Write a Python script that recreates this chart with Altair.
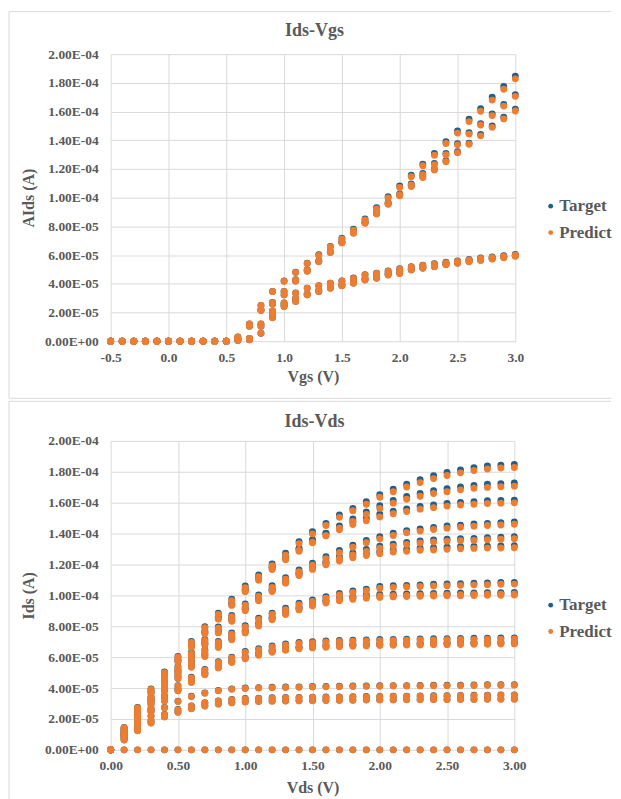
import altair as alt
import pandas as pd

# ---------------- colours / fonts ----------------
BLUE = "#1F5F8B"
ORANGE = "#ED7D31"
TEXT = "#595959"
GRID = "#D9D9D9"
FONT = "Liberation Serif"
SERIES = ["Target", "Predict"]

# ---------------- axis ticks ----------------
Y_TICKS = [0.0, 2.0e-5, 4.0e-5, 6.0e-5, 8.0e-5, 1.0e-4, 1.2e-4, 1.4e-4, 1.6e-4, 1.8e-4, 2.0e-4]
Y_LABELS = ["0.00E+00", "2.00E-05", "4.00E-05", "6.00E-05", "8.00E-05", "1.00E-04",
            "1.20E-04", "1.40E-04", "1.60E-04", "1.80E-04", "2.00E-04"]
XT_TICKS = [-0.5, 0.0, 0.5, 1.0, 1.5, 2.0, 2.5, 3.0]
XT_LABELS = ["-0.5", "0.0", "0.5", "1.0", "1.5", "2.0", "2.5", "3.0"]
XB_TICKS = [0.0, 0.5, 1.0, 1.5, 2.0, 2.5, 3.0]
XB_LABELS = ["0.00", "0.50", "1.00", "1.50", "2.00", "2.50", "3.00"]

# ---------------- top panel data: Ids (1e-5 A) vs Vgs ----------------
VGS = [-0.5, -0.4, -0.3, -0.2, -0.1, 0.0, 0.1, 0.2, 0.3, 0.4, 0.5, 0.6, 0.7, 0.8, 0.9,
       1.0, 1.1, 1.2, 1.3, 1.4, 1.5, 1.6, 1.7, 1.8, 1.9, 2.0, 2.1, 2.2, 2.3, 2.4, 2.5,
       2.6, 2.7, 2.8, 2.9, 3.0]

TA_T = [0, 0, 0, 0, 0, 0, 0, 0, 0, 0, 0, 0.30, 1.20, 2.50, 3.47, 4.20, 4.81, 5.44, 6.02, 6.60, 7.17, 7.80, 8.52, 9.30, 10.07, 10.81, 11.57, 12.34, 13.08, 13.90, 14.65, 15.47, 16.20, 17.00, 17.75, 18.47]
TB_T = [0, 0, 0, 0, 0, 0, 0, 0, 0, 0, 0, 0.15, 1.10, 2.20, 2.70, 3.47, 4.28, 4.98, 5.60, 6.25, 6.94, 7.62, 8.30, 8.97, 9.65, 10.26, 10.95, 11.69, 12.38, 13.08, 13.77, 14.53, 15.16, 15.83, 16.50, 17.17]
TC_T = [0, 0, 0, 0, 0, 0, 0, 0, 0, 0, 0, 0.10, 1.05, 2.15, 2.60, 3.24, 4.20, 4.90, 5.55, 6.20, 6.88, 7.55, 8.25, 8.90, 9.58, 10.19, 10.83, 11.46, 11.99, 12.57, 13.20, 13.80, 14.40, 15.00, 15.60, 16.16]
TD_T = [0, 0, 0, 0, 0, 0, 0, 0, 0, 0, 0, 0.20, 0.20, 1.20, 2.10, 2.66, 3.36, 3.70, 3.87, 4.05, 4.20, 4.40, 4.63, 4.74, 4.90, 5.05, 5.20, 5.30, 5.40, 5.50, 5.60, 5.70, 5.80, 5.87, 5.95, 6.05]
TE_T = [0, 0, 0, 0, 0, 0, 0, 0, 0, 0, 0, 0.05, 0.10, 0.55, 1.65, 2.43, 2.78, 3.24, 3.47, 3.70, 3.87, 4.05, 4.28, 4.40, 4.63, 4.74, 4.98, 5.10, 5.20, 5.35, 5.45, 5.55, 5.65, 5.75, 5.85, 5.95]
TF_T = [0, 0, 0, 0, 0, 0, 0, 0, 0, 0, 0, 0.10, 0.15, 1.05, 1.90, 2.55, 3.00, 3.30, 3.55, 3.78, 3.95, 4.15, 4.38, 4.52, 4.72, 4.85, 5.05, 5.18, 5.28, 5.42, 5.52, 5.62, 5.72, 5.80, 5.90, 6.00]

TA_P = [0, 0, 0, 0, 0, 0, 0, 0, 0, 0, 0, 0.30, 1.20, 2.49, 3.46, 4.18, 4.79, 5.41, 5.98, 6.56, 7.12, 7.74, 8.45, 9.22, 9.98, 10.71, 11.46, 12.22, 12.96, 13.78, 14.50, 15.30, 16.02, 16.80, 17.55, 18.28]
TB_P = [0, 0, 0, 0, 0, 0, 0, 0, 0, 0, 0, 0.15, 1.10, 2.19, 2.69, 3.46, 4.27, 4.96, 5.58, 6.22, 6.91, 7.58, 8.26, 8.92, 9.60, 10.20, 10.88, 11.61, 12.30, 12.99, 13.68, 14.43, 15.06, 15.72, 16.38, 17.06]
TC_P = [0, 0, 0, 0, 0, 0, 0, 0, 0, 0, 0, 0.10, 1.05, 2.14, 2.59, 3.23, 4.19, 4.88, 5.53, 6.17, 6.85, 7.52, 8.22, 8.86, 9.54, 10.14, 10.78, 11.40, 11.93, 12.50, 13.13, 13.72, 14.31, 14.90, 15.49, 16.04]
TD_P = [0, 0, 0, 0, 0, 0, 0, 0, 0, 0, 0, 0.20, 0.20, 1.20, 2.10, 2.66, 3.35, 3.69, 3.86, 4.04, 4.19, 4.38, 4.61, 4.72, 4.88, 5.02, 5.17, 5.27, 5.37, 5.47, 5.56, 5.66, 5.76, 5.83, 5.91, 6.00]
TE_P = [0, 0, 0, 0, 0, 0, 0, 0, 0, 0, 0, 0.05, 0.10, 0.55, 1.64, 2.42, 2.77, 3.23, 3.46, 3.69, 3.86, 4.03, 4.26, 4.38, 4.61, 4.72, 4.96, 5.08, 5.18, 5.33, 5.43, 5.53, 5.63, 5.72, 5.82, 5.92]
TF_P = [0, 0, 0, 0, 0, 0, 0, 0, 0, 0, 0, 0.10, 0.15, 1.05, 1.89, 2.54, 2.99, 3.29, 3.54, 3.77, 3.93, 4.13, 4.36, 4.50, 4.70, 4.83, 5.02, 5.15, 5.25, 5.39, 5.49, 5.59, 5.69, 5.77, 5.87, 5.97]

# ---------------- bottom panel data: Ids (1e-5 A) vs Vds ----------------
VDS = [0.0, 0.1, 0.2, 0.3, 0.4, 0.5, 0.6, 0.7, 0.8, 0.9, 1.0, 1.1, 1.2, 1.3, 1.4, 1.5,
       1.6, 1.7, 1.8, 1.9, 2.0, 2.1, 2.2, 2.3, 2.4, 2.5, 2.6, 2.7, 2.8, 2.9, 3.0]

A30_T = [0, 1.45, 2.75, 3.95, 5.05, 6.05, 7.02, 7.98, 8.85, 9.75, 10.61, 11.32, 12.04, 12.73, 13.48, 14.12, 14.66, 15.20, 15.63, 16.06, 16.52, 16.88, 17.20, 17.48, 17.75, 17.95, 18.12, 18.27, 18.37, 18.43, 18.47]
B30_T = [0, 1.40, 2.65, 3.80, 4.85, 5.85, 6.80, 7.70, 8.60, 9.50, 10.40, 11.15, 11.85, 12.50, 13.05, 13.59, 14.02, 14.50, 14.95, 15.40, 15.80, 16.15, 16.40, 16.60, 16.78, 16.90, 17.02, 17.12, 17.19, 17.23, 17.27]
C30_T = [0, 1.35, 2.60, 3.70, 4.75, 5.75, 6.70, 7.60, 8.55, 9.45, 10.35, 11.10, 11.80, 12.45, 13.00, 13.55, 14.00, 14.40, 14.75, 14.99, 15.25, 15.45, 15.60, 15.75, 15.85, 15.95, 16.02, 16.07, 16.12, 16.14, 16.16]
A25_T = [0, 1.25, 2.40, 3.45, 4.45, 5.40, 6.30, 7.15, 7.95, 8.70, 9.45, 10.03, 10.62, 11.15, 11.65, 12.08, 12.50, 12.90, 13.25, 13.55, 13.80, 14.02, 14.19, 14.30, 14.40, 14.49, 14.55, 14.62, 14.66, 14.70, 14.75]
B25_T = [0, 1.20, 2.30, 3.35, 4.30, 5.20, 6.10, 6.95, 7.75, 8.50, 9.20, 9.80, 10.40, 10.95, 11.45, 11.85, 12.20, 12.50, 12.75, 12.97, 13.18, 13.32, 13.43, 13.52, 13.58, 13.63, 13.67, 13.69, 13.73, 13.76, 13.80]
C25_T = [0, 1.15, 2.25, 3.25, 4.20, 5.10, 6.00, 6.85, 7.65, 8.40, 9.10, 9.75, 10.35, 10.90, 11.40, 11.80, 12.10, 12.35, 12.55, 12.70, 12.83, 12.94, 12.98, 13.05, 13.07, 13.11, 13.15, 13.17, 13.19, 13.20, 13.21]
A20_T = [0, 1.12, 2.20, 3.20, 4.15, 4.98, 5.73, 6.48, 7.02, 7.56, 8.03, 8.53, 8.85, 9.17, 9.50, 9.71, 9.92, 10.12, 10.29, 10.40, 10.57, 10.62, 10.65, 10.68, 10.72, 10.74, 10.76, 10.79, 10.80, 10.83, 10.84]
B20_T = [0, 1.05, 2.10, 3.10, 4.00, 4.80, 5.55, 6.25, 6.85, 7.35, 7.75, 8.20, 8.60, 8.95, 9.25, 9.50, 9.70, 9.85, 9.95, 10.02, 10.06, 10.08, 10.10, 10.11, 10.13, 10.14, 10.15, 10.16, 10.17, 10.18, 10.19]
C20_T = [0, 1.00, 2.00, 2.95, 3.85, 4.65, 5.40, 6.10, 6.70, 7.20, 7.65, 8.10, 8.50, 8.85, 9.15, 9.40, 9.60, 9.75, 9.85, 9.92, 9.97, 10.00, 10.02, 10.04, 10.06, 10.07, 10.08, 10.09, 10.10, 10.11, 10.12]
A15_T = [0, 0.95, 1.85, 2.70, 3.50, 4.15, 4.70, 5.20, 5.70, 6.00, 6.37, 6.55, 6.72, 6.85, 6.95, 7.00, 7.05, 7.08, 7.10, 7.12, 7.14, 7.15, 7.17, 7.18, 7.19, 7.20, 7.21, 7.22, 7.23, 7.24, 7.25]
B15_T = [0, 0.90, 1.75, 2.55, 3.30, 3.95, 4.50, 5.00, 5.45, 5.80, 6.05, 6.27, 6.48, 6.59, 6.69, 6.74, 6.78, 6.81, 6.84, 6.86, 6.88, 6.90, 6.91, 6.92, 6.93, 6.94, 6.95, 6.96, 6.97, 6.98, 6.99]
C15_T = [0, 0.88, 1.70, 2.48, 3.20, 3.85, 4.40, 4.90, 5.35, 5.70, 5.95, 6.18, 6.38, 6.50, 6.60, 6.66, 6.70, 6.74, 6.77, 6.79, 6.81, 6.83, 6.84, 6.85, 6.86, 6.87, 6.88, 6.89, 6.90, 6.91, 6.92]
A10_T = [0, 0.80, 1.55, 2.20, 2.75, 3.15, 3.47, 3.69, 3.85, 3.95, 4.00, 4.03, 4.05, 4.07, 4.08, 4.10, 4.11, 4.12, 4.13, 4.14, 4.15, 4.16, 4.16, 4.17, 4.18, 4.19, 4.19, 4.20, 4.21, 4.21, 4.22]
B10_T = [0, 0.70, 1.35, 1.90, 2.30, 2.61, 2.85, 3.05, 3.17, 3.26, 3.32, 3.35, 3.37, 3.39, 3.40, 3.41, 3.42, 3.43, 3.44, 3.45, 3.46, 3.47, 3.48, 3.49, 3.50, 3.51, 3.52, 3.53, 3.54, 3.55, 3.56]
C10_T = [0, 0.65, 1.25, 1.75, 2.15, 2.45, 2.68, 2.86, 2.98, 3.06, 3.12, 3.15, 3.17, 3.18, 3.19, 3.20, 3.21, 3.22, 3.23, 3.24, 3.25, 3.25, 3.26, 3.26, 3.27, 3.27, 3.28, 3.28, 3.29, 3.30, 3.30]
OFF_T = [0, 0, 0, 0, 0, 0, 0, 0, 0, 0, 0, 0, 0, 0, 0, 0, 0, 0, 0, 0, 0, 0, 0, 0, 0, 0, 0, 0, 0, 0, 0]

A30_P = [0, 1.43, 2.72, 3.91, 5.00, 5.99, 6.95, 7.90, 8.77, 9.65, 10.50, 11.21, 11.92, 12.60, 13.35, 13.98, 14.52, 15.05, 15.48, 15.90, 16.35, 16.71, 17.02, 17.30, 17.56, 17.76, 17.93, 18.08, 18.18, 18.24, 18.28]
B30_P = [0, 1.39, 2.62, 3.76, 4.80, 5.79, 6.73, 7.62, 8.51, 9.40, 10.29, 11.03, 11.72, 12.37, 12.91, 13.44, 13.87, 14.34, 14.79, 15.23, 15.63, 15.97, 16.22, 16.42, 16.59, 16.71, 16.83, 16.93, 16.99, 17.03, 17.07]
C30_P = [0, 1.34, 2.57, 3.66, 4.70, 5.69, 6.63, 7.52, 8.46, 9.35, 10.24, 10.98, 11.67, 12.31, 12.86, 13.40, 13.85, 14.24, 14.59, 14.83, 15.08, 15.28, 15.43, 15.58, 15.68, 15.78, 15.85, 15.90, 15.95, 15.97, 15.99]
A25_P = [0, 1.24, 2.38, 3.42, 4.41, 5.35, 6.24, 7.08, 7.87, 8.62, 9.36, 9.93, 10.52, 11.04, 11.53, 11.96, 12.38, 12.77, 13.12, 13.41, 13.66, 13.88, 14.05, 14.16, 14.26, 14.35, 14.41, 14.48, 14.52, 14.56, 14.60]
B25_P = [0, 1.19, 2.28, 3.32, 4.26, 5.15, 6.04, 6.88, 7.67, 8.42, 9.11, 9.70, 10.30, 10.84, 11.34, 11.73, 12.08, 12.38, 12.62, 12.84, 13.05, 13.19, 13.30, 13.39, 13.45, 13.50, 13.54, 13.56, 13.60, 13.63, 13.67]
C25_P = [0, 1.14, 2.23, 3.22, 4.16, 5.05, 5.94, 6.78, 7.57, 8.32, 9.01, 9.65, 10.25, 10.79, 11.29, 11.68, 11.98, 12.23, 12.43, 12.58, 12.70, 12.81, 12.85, 12.92, 12.94, 12.98, 13.02, 13.04, 13.06, 13.07, 13.08]
A20_P = [0, 1.11, 2.18, 3.17, 4.11, 4.93, 5.67, 6.42, 6.95, 7.48, 7.95, 8.44, 8.76, 9.08, 9.40, 9.61, 9.82, 10.02, 10.19, 10.30, 10.46, 10.51, 10.54, 10.57, 10.61, 10.63, 10.65, 10.68, 10.69, 10.72, 10.73]
B20_P = [0, 1.04, 2.08, 3.07, 3.96, 4.75, 5.50, 6.19, 6.78, 7.28, 7.67, 8.12, 8.51, 8.86, 9.16, 9.40, 9.60, 9.75, 9.85, 9.92, 9.96, 9.98, 10.00, 10.01, 10.03, 10.04, 10.05, 10.06, 10.07, 10.08, 10.09]
C20_P = [0, 0.99, 1.98, 2.92, 3.81, 4.60, 5.35, 6.04, 6.63, 7.13, 7.57, 8.02, 8.42, 8.76, 9.06, 9.31, 9.50, 9.65, 9.75, 9.82, 9.87, 9.90, 9.92, 9.94, 9.96, 9.97, 9.98, 9.99, 10.00, 10.01, 10.02]
A15_P = [0, 0.94, 1.84, 2.68, 3.47, 4.12, 4.66, 5.15, 5.65, 5.95, 6.31, 6.49, 6.66, 6.79, 6.89, 6.94, 6.98, 7.01, 7.03, 7.05, 7.07, 7.08, 7.10, 7.11, 7.12, 7.13, 7.14, 7.15, 7.16, 7.17, 7.18]
B15_P = [0, 0.89, 1.74, 2.53, 3.27, 3.92, 4.46, 4.96, 5.40, 5.75, 6.00, 6.21, 6.42, 6.53, 6.63, 6.68, 6.72, 6.75, 6.78, 6.80, 6.82, 6.84, 6.85, 6.86, 6.87, 6.88, 6.89, 6.90, 6.91, 6.92, 6.93]
C15_P = [0, 0.87, 1.69, 2.46, 3.17, 3.82, 4.36, 4.86, 5.30, 5.65, 5.90, 6.12, 6.32, 6.44, 6.54, 6.60, 6.64, 6.68, 6.71, 6.73, 6.75, 6.77, 6.78, 6.79, 6.80, 6.81, 6.82, 6.83, 6.84, 6.85, 6.86]
A10_P = [0, 0.79, 1.54, 2.18, 2.73, 3.13, 3.44, 3.66, 3.82, 3.92, 3.97, 4.00, 4.02, 4.04, 4.05, 4.07, 4.08, 4.09, 4.10, 4.11, 4.12, 4.13, 4.13, 4.14, 4.15, 4.16, 4.16, 4.17, 4.18, 4.18, 4.19]
B10_P = [0, 0.69, 1.34, 1.89, 2.28, 2.59, 2.83, 3.03, 3.15, 3.24, 3.30, 3.33, 3.35, 3.37, 3.38, 3.39, 3.40, 3.41, 3.42, 3.43, 3.44, 3.45, 3.46, 3.47, 3.48, 3.49, 3.50, 3.51, 3.52, 3.53, 3.54]
C10_P = [0, 0.64, 1.24, 1.74, 2.13, 2.43, 2.66, 2.84, 2.96, 3.04, 3.10, 3.13, 3.15, 3.16, 3.17, 3.18, 3.19, 3.20, 3.21, 3.22, 3.23, 3.23, 3.24, 3.24, 3.25, 3.25, 3.26, 3.26, 3.27, 3.28, 3.28]
OFF_P = [0, 0, 0, 0, 0, 0, 0, 0, 0, 0, 0, 0, 0, 0, 0, 0, 0, 0, 0, 0, 0, 0, 0, 0, 0, 0, 0, 0, 0, 0, 0]

TOP_T = {"A": TA_T, "B": TB_T, "C": TC_T, "D": TD_T, "E": TE_T, "F": TF_T}
TOP_P = {"A": TA_P, "B": TB_P, "C": TC_P, "D": TD_P, "E": TE_P, "F": TF_P}
BOT_T = {"A30": A30_T, "B30": B30_T, "C30": C30_T, "A25": A25_T, "B25": B25_T, "C25": C25_T,
         "A20": A20_T, "B20": B20_T, "C20": C20_T, "A15": A15_T, "B15": B15_T, "C15": C15_T,
         "A10": A10_T, "B10": B10_T, "C10": C10_T, "OFF": OFF_T}
BOT_P = {"A30": A30_P, "B30": B30_P, "C30": C30_P, "A25": A25_P, "B25": B25_P, "C25": C25_P,
         "A20": A20_P, "B20": B20_P, "C20": C20_P, "A15": A15_P, "B15": B15_P, "C15": C15_P,
         "A10": A10_P, "B10": B10_P, "C10": C10_P, "OFF": OFF_P}


def build(xs, tgt, prd):
    rows = []
    for name, curves in (("Target", tgt), ("Predict", prd)):
        for cname, vals in curves.items():
            assert len(vals) == len(xs), (cname, len(vals))
            for x, v in zip(xs, vals):
                rows.append({"x": x, "y": v * 1e-5, "series": name, "curve": cname})
    return pd.DataFrame(rows)


df_top = build(VGS, TOP_T, TOP_P)
df_bot = build(VDS, BOT_T, BOT_P)
ONE = pd.DataFrame({"k": [0]})


def label_expr(labels, start, step):
    arr = "[" + ",".join("'" + s + "'" for s in labels) + "]"
    return f"{arr}[round((datum.value - ({start})) / {step})]"


def rule(x1, x2, y1, y2):
    enc = {"x": alt.value(x1), "y": alt.value(y1)}
    if x2 is not None:
        enc["x2"] = alt.value(x2)
    if y2 is not None:
        enc["y2"] = alt.value(y2)
    return alt.Chart(ONE).mark_rule(color=GRID, strokeWidth=1).encode(**enc)


def panel(df, title, xticks, xlabels, xtitle, ytitle, w, h, frame, title_y,
          legend_xy, xlab_pad, xtitle_pad, with_bottom):
    left, right, top, bottom = frame
    pts = alt.Chart(df).mark_circle(size=48, opacity=1).encode(
        x=alt.X("x:Q",
                scale=alt.Scale(domain=[xticks[0], xticks[-1]], nice=False, zero=False),
                axis=alt.Axis(values=xticks, labelExpr=label_expr(xlabels, xticks[0], 0.5),
                              title=xtitle, labelPadding=xlab_pad, titlePadding=xtitle_pad,
                              labelFlush=False, labelOverlap=False)),
        y=alt.Y("y:Q",
                scale=alt.Scale(domain=[0, 2e-4], nice=False),
                axis=alt.Axis(values=Y_TICKS, labelExpr=label_expr(Y_LABELS, 0, 2e-5),
                              title=ytitle, labelPadding=12.5, titlePadding=8,
                              labelFlush=False, labelOverlap=False)),
        color=alt.Color("series:N",
                        scale=alt.Scale(domain=SERIES, range=[BLUE, ORANGE]),
                        legend=alt.Legend(title=None, orient="none",
                                          legendX=legend_xy[0], legendY=legend_xy[1],
                                          labelFont=FONT, labelFontSize=17,
                                          labelFontWeight="bold", labelColor=TEXT,
                                          symbolType="circle", symbolSize=24,
                                          symbolStrokeWidth=0, labelOffset=0,
                                          rowPadding=8.5, padding=0)),
    )
    ttl = alt.Chart(ONE).mark_text(
        text=title, font=FONT, fontSize=18, fontWeight="bold", color=TEXT,
        align="center", baseline="middle"
    ).encode(x=alt.value(204.5), y=alt.value(title_y))
    layers = [rule(left, right, top, None), rule(left, None, top, bottom)]
    if with_bottom:
        layers.append(rule(left, right, bottom, None))
    return alt.layer(*layers, ttl, pts).properties(width=w, height=h)


top = panel(df_top, "Ids-Vgs", XT_TICKS, XT_LABELS, "Vgs (V)", "AIds (A)",
            406, 288, (-102, 502, -42.7, 345.3), -23.7, (433, 144), 9, 5, True)
bot = panel(df_bot, "Ids-Vds", XB_TICKS, XB_LABELS, "Vds (V)", "Ids (A)",
            405, 310, (-102, 502, -39.7, 362), -19, (433, 156.3), 9, 7.5, False)

chart = alt.vconcat(top, bot, spacing=0).resolve_scale(
    color="independent", x="independent", y="independent"
).resolve_legend(color="independent").properties(
    padding={"left": 0, "top": 1, "right": 0, "bottom": 0}
).configure_view(stroke="transparent").configure_axis(
    labelFont=FONT, labelFontSize=13.5, labelFontWeight="bold", labelColor=TEXT,
    titleFont=FONT, titleFontSize=16, titleFontWeight="bold", titleColor=TEXT,
    gridColor=GRID, gridWidth=1, domain=False, ticks=False, tickSize=0,
)

chart.save("out.html", embed_options={"renderer": "svg", "actions": False})
